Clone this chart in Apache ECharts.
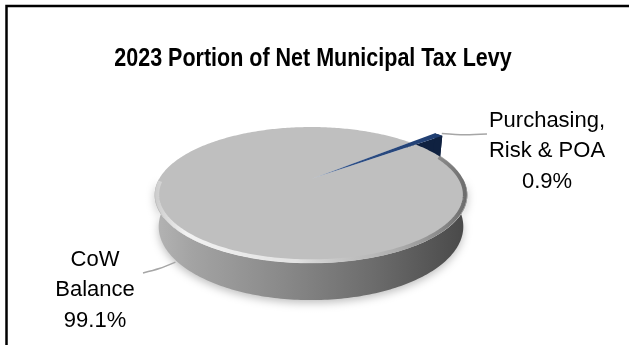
<!DOCTYPE html>
<html><head><meta charset="utf-8">
<script src="https://cdn.jsdelivr.net/npm/echarts@6/dist/echarts.min.js"></script>
<style>html,body{margin:0;padding:0;background:#fff}#c{width:629px;height:345px}</style>
</head><body><div id="c"></div>
<script>
// ---- data ----
const categories = ['CoW Balance', 'Purchasing, Risk & POA'];
const labelText = ['CoW\nBalance', 'Purchasing,\nRisk & POA'];
const values = [99.1, 0.9];
const titleText = '2023 Portion of Net Municipal Tax Levy';

// ---- layout / style ----
const VIEW = { cx: 311, cy: 179, f: 585, D: 3.85, tilt: 25, H: 0.228 };
const START_ANGLE = 41.1;
const SLIVER_REACH = 1.3;
const LABEL_POS = [[95, 290], [547, 151]];
const LEADER_END = [[143, 273], [487, 134]];
const LEADER_ANCHOR = [[1.01, -1], [SLIVER_REACH * 1.03, 0]];
const COLORS = { top: '#bfbfbf', sliverTop: '#1f3d70', sliverFace: '#0f2140' };

const rad = Math.PI / 180;
const sT = Math.sin(VIEW.tilt * rad), cT = Math.cos(VIEW.tilt * rad);
function proj(r, deg, h) {
  const X = r * Math.cos(deg * rad), Z = r * Math.sin(deg * rad);
  const yp = h * cT + Z * sT;
  const zp = -h * sT + Z * cT + VIEW.D;
  return [VIEW.cx + VIEW.f * X / zp, VIEW.cy - VIEW.f * yp / zp];
}
function arc(r, a0, a1, h) {
  const pts = [];
  const n = Math.max(2, Math.ceil(Math.abs(a1 - a0)));
  for (let k = 0; k <= n; k++) pts.push(proj(r, a0 + (a1 - a0) * k / n, h));
  return pts;
}

function renderItem(params, api) {
  const i = params.dataIndex;
  const total = values.reduce((a, b) => a + b, 0);
  let cum = 0;
  for (let j = 0; j < i; j++) cum += values[j];
  const v = api.value(0);
  const a0 = START_ANGLE + cum / total * 360;
  const a1 = a0 + v / total * 360;
  const H = VIEW.H;
  const children = [];
  const pct = (v / total * 100).toFixed(1) + '%';

  if (i === 0) {
    const band = arc(1, 180, 360, 0).concat(arc(1, 360, 180, -H));
    children.push({
      type: 'polygon', z2: 1, shape: { points: band },
      style: {
        fill: { type: 'linear', x: 0, y: 0, x2: 1, y2: 0, colorStops: [
          { offset: 0, color: '#b4b4b4' }, { offset: 0.12, color: '#a3a3a3' },
          { offset: 0.4, color: '#8a8a8a' }, { offset: 0.7, color: '#6c6c6c' },
          { offset: 1, color: '#484848' }] },
        shadowBlur: 8, shadowColor: 'rgba(0,0,0,0.25)', shadowOffsetY: 3
      }
    });
    const top = [proj(0, 0, 0)].concat(arc(1, a0, a1, 0));
    children.push({ type: 'polygon', z2: 2, shape: { points: top }, style: { fill: COLORS.top } });
    children.push({
      type: 'polyline', z2: 3, shape: { points: arc(0.985, 182, 382, 0) },
      style: {
        fill: null, lineWidth: 4,
        stroke: { type: 'linear', x: 0, y: 0, x2: 1, y2: 0, colorStops: [
          { offset: 0, color: 'rgba(255,255,255,0.2)' }, { offset: 0.1, color: 'rgba(255,255,255,0.8)' },
          { offset: 0.45, color: 'rgba(255,255,255,0.55)' }, { offset: 0.7, color: 'rgba(170,170,170,0.3)' },
          { offset: 1, color: 'rgba(70,70,70,0.7)' }] }
      }
    });
  } else {
    const R = SLIVER_REACH;
    const face = [proj(0.9, a0, 0), proj(R, a0, 0), proj(R, a0, -H), proj(0.9, a0, -H)];
    children.push({ type: 'polygon', z2: 0, shape: { points: face }, style: { fill: COLORS.sliverFace } });
    const outer = arc(R, a0, a1, 0).concat(arc(R, a1, a0, -H));
    children.push({ type: 'polygon', z2: 0, shape: { points: outer }, style: { fill: COLORS.sliverFace } });
    const top = [proj(0, 0, 0)].concat(arc(R, a0, a1, 0));
    children.push({
      type: 'polygon', z2: 4, shape: { points: top },
      style: {
        fill: { type: 'linear', x: 0, y: 0, x2: 1, y2: 0, colorStops: [
          { offset: 0, color: '#9aa4b4' }, { offset: 0.3, color: '#2e4f86' }, { offset: 1, color: COLORS.sliverTop }] }
      }
    });
  }
  const mid = (a0 + a1) / 2;
  const an = LEADER_ANCHOR[i];
  const p0 = proj(an[0], mid, an[1] * H);
  const p1 = LEADER_END[i];
  children.push({
    type: 'polyline', z2: 5,
    shape: { points: [p0, [(p0[0] + p1[0]) / 2, (p0[1] + p1[1]) / 2 + 1], p1], smooth: 0.3 },
    style: { stroke: '#a6a6a6', lineWidth: 1.5, fill: null }
  });
  children.push({
    type: 'text', z2: 6,
    style: {
      text: labelText[i] + '\n' + pct, x: LABEL_POS[i][0], y: LABEL_POS[i][1],
      align: 'center', verticalAlign: 'middle',
      font: '22px "Liberation Sans", Arial, sans-serif', lineHeight: 30.5, fill: '#000'
    }
  });
  return { type: 'group', children };
}

const chart = echarts.init(document.getElementById('c'), null, { renderer: 'canvas' });
chart.setOption({
  backgroundColor: '#fff',
  animation: false,
  graphic: [
    { type: 'polyline', shape: { points: [[6.5, 345], [6.5, 6], [629, 6]] },
      style: { stroke: '#000', lineWidth: 2.5, fill: null } },
    { type: 'text', x: 313, y: 59, scaleX: 0.86,
      style: { text: titleText, align: 'center', verticalAlign: 'middle',
        font: 'bold 25px "Liberation Sans", Arial, sans-serif', fill: '#000' } }
  ],
  series: [{
    type: 'custom', coordinateSystem: 'none', silent: true,
    name: 'Net Municipal Tax Levy',
    data: values.map((v, k) => ({ name: categories[k], value: [v] })),
    renderItem
  }]
});
</script></body></html>
